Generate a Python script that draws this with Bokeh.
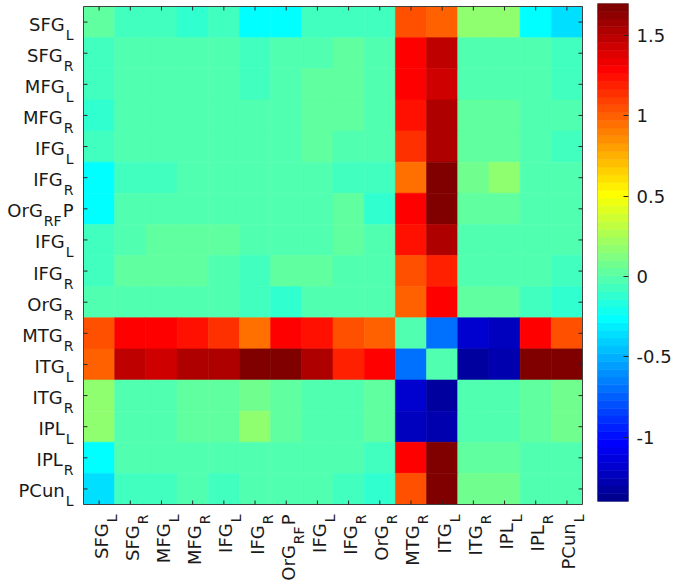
import numpy as np
from bokeh.plotting import figure
from bokeh.layouts import row
from bokeh.models import (ColumnDataSource, FixedTicker, LinearAxis, Range1d,
                          CustomJSTickFormatter)
from bokeh.transform import linear_cmap
from bokeh.core.properties import value
from bokeh.embed import file_html
from bokeh.resources import INLINE

# ---- data -------------------------------------------------------------
label_main = ["SFG", "SFG", "MFG", "MFG", "IFG", "IFG", "OrG", "IFG",
              "IFG", "OrG", "MTG", "ITG", "ITG", "IPL", "IPL", "PCun"]
label_sub = ["L", "R", "L", "R", "L", "R", "RF", "L",
             "R", "R", "R", "L", "R", "L", "R", "L"]
label_tail = ["", "", "", "", "", "", "P", "",
              "", "", "", "", "", "", "", ""]

values = [
    [0.01, -0.08, -0.08, -0.10, -0.08, -0.24, -0.24, -0.08, -0.08, -0.06, 1.05, 1.00, 0.16, 0.16, -0.25, -0.36],
    [-0.09, -0.02, -0.02, -0.02, -0.02, -0.07, -0.02, -0.02, 0.01, -0.04, 1.31, 1.47, -0.02, -0.02, -0.02, -0.06],
    [-0.09, -0.02, -0.02, -0.02, -0.02, -0.07, -0.02, 0.03, 0.01, -0.04, 1.28, 1.44, -0.02, -0.02, -0.02, -0.06],
    [-0.10, -0.02, -0.02, -0.02, -0.02, -0.02, -0.02, 0.03, 0.01, -0.04, 1.25, 1.55, 0.02, 0.02, -0.02, -0.02],
    [-0.08, -0.02, -0.02, -0.02, -0.02, -0.02, -0.02, 0.03, -0.02, -0.04, 1.12, 1.52, 0.01, 0.01, -0.02, -0.07],
    [-0.24, -0.08, -0.08, -0.02, -0.02, -0.02, -0.02, -0.02, -0.09, -0.06, 0.97, 1.66, 0.08, 0.16, -0.02, -0.02],
    [-0.24, -0.02, -0.02, -0.02, -0.02, -0.02, -0.02, -0.02, 0.01, -0.11, 1.31, 1.66, 0.03, 0.03, -0.02, -0.02],
    [-0.08, -0.02, 0.03, 0.03, 0.03, -0.02, -0.02, -0.02, 0.01, -0.04, 1.25, 1.53, -0.02, -0.02, -0.02, -0.02],
    [-0.08, 0.03, 0.03, 0.03, -0.02, -0.09, 0.03, 0.03, -0.02, -0.02, 1.07, 1.18, -0.02, -0.02, -0.02, -0.06],
    [-0.02, -0.02, -0.02, -0.02, -0.02, -0.06, -0.11, -0.02, -0.02, -0.02, 1.02, 1.31, 0.03, 0.03, -0.07, -0.11],
    [1.07, 1.31, 1.28, 1.25, 1.12, 0.97, 1.31, 1.25, 1.07, 1.02, -0.02, -0.72, -1.17, -1.21, 1.28, 1.07],
    [1.02, 1.47, 1.44, 1.55, 1.52, 1.66, 1.66, 1.52, 1.18, 1.31, -0.72, -0.02, -1.35, -1.28, 1.66, 1.70],
    [0.16, -0.02, -0.02, 0.02, 0.02, 0.06, 0.01, -0.02, -0.02, 0.02, -1.17, -1.35, -0.02, -0.02, 0.01, 0.08],
    [0.16, -0.02, -0.02, 0.02, 0.02, 0.16, 0.01, -0.02, -0.02, 0.02, -1.21, -1.28, -0.02, -0.02, 0.01, 0.08],
    [-0.25, -0.02, -0.02, -0.02, -0.02, -0.02, -0.02, -0.02, -0.02, -0.07, 1.28, 1.66, 0.03, 0.03, -0.02, -0.02],
    [-0.36, -0.08, -0.08, -0.02, -0.09, -0.02, -0.02, -0.02, -0.06, -0.11, 1.07, 1.70, 0.08, 0.08, -0.02, -0.02],
]

cbar_ticks = [-1, -0.5, 0, 0.5, 1, 1.5]
c_low, c_high = -1.4, 1.7

# ---- style ------------------------------------------------------------
FONT = "DejaVu Sans"
MAIN_PX = 18
SUB_PX = 14
TEXT_COLOR = "#1a1a1a"
BOX_COLOR = "#404040"
TICK_COLOR = "#262626"
ADV = {"L": 0.557, "R": 0.695, "F": 0.575, "P": 0.603}  # DejaVu Sans advance widths (em)

# layout (pixels)
FW, FH = 499, 498          # heat-map box
LEFT, TOP, BOTTOM, RGAP = 83, 3, 83, 15
TICK = 4
GAP = 10                   # label gap from box


def text_w(s, px):
    return sum(ADV.get(ch, 0.6) for ch in s) * px


def jet(m=64):
    n = int(np.ceil(m / 4))
    u = np.concatenate([np.arange(1, n + 1) / n, np.ones(n - 1), np.arange(n, 0, -1) / n])
    g = int(np.ceil(n / 2)) - (1 if m % 4 == 1 else 0) + np.arange(1, len(u) + 1)
    r = g + n
    b = g - n
    g = g[g <= m]
    r = r[r <= m]
    b = b[b >= 1]
    J = np.zeros((m, 3))
    J[r - 1, 0] = u[:len(r)]
    J[g - 1, 1] = u[:len(g)]
    J[b - 1, 2] = u[-len(b):]
    return ["#%02x%02x%02x" % tuple(int(round(c * 255)) for c in row) for row in J]


palette = jet(64)
n = len(label_main)
PX_X = FW / n   # pixels per data unit
PX_Y = FH / n
lo, hi = -0.5, n - 0.5

# ---- main heat map ----------------------------------------------------
p = figure(frame_width=LEFT + FW + RGAP, frame_height=TOP + FH + BOTTOM,
           x_range=Range1d(lo - LEFT / PX_X, hi + RGAP / PX_X),
           y_range=Range1d(hi + BOTTOM / PX_Y, lo - TOP / PX_Y),
           x_axis_type=None, y_axis_type=None,
           output_backend="svg", toolbar_location=None,
           min_border=0)
p.grid.visible = False
p.outline_line_color = None
p.background_fill_color = "white"
p.border_fill_color = "white"

xs, ys, vs = [], [], []
for i in range(n):
    for j in range(n):
        xs.append(j)
        ys.append(i)
        vs.append(values[i][j])
src = ColumnDataSource(dict(x=xs, y=ys, v=vs))
cmap = linear_cmap("v", palette, c_low, c_high)
p.rect(x="x", y="y", width=1, height=1, source=src,
       fill_color=cmap, line_color=cmap, line_width=0.6)

# box around the map
p.rect(x=[(lo + hi) / 2], y=[(lo + hi) / 2], width=[hi - lo], height=[hi - lo],
       fill_color=None, line_color=BOX_COLOR, line_width=1)

# inward ticks on all four sides at each cell centre
idx = list(range(n))
tx, ty = TICK / PX_X, TICK / PX_Y
p.segment(x0=idx, y0=[hi] * n, x1=idx, y1=[hi - ty] * n, line_color=TICK_COLOR, line_width=1)
p.segment(x0=idx, y0=[lo] * n, x1=idx, y1=[lo + ty] * n, line_color=TICK_COLOR, line_width=1)
p.segment(x0=[lo] * n, y0=idx, x1=[lo + tx] * n, y1=idx, line_color=TICK_COLOR, line_width=1)
p.segment(x0=[hi] * n, y0=idx, x1=[hi - tx] * n, y1=idx, line_color=TICK_COLOR, line_width=1)

# tick labels with subscripts (row labels on the left, column labels below)
pieces = {"txt": [], "px": [], "along": [], "across": [], "i": []}
for i in range(n):
    sw = text_w(label_sub[i], SUB_PX) + 1
    tw = text_w(label_tail[i], MAIN_PX) + (1 if label_tail[i] else 0)
    parts = [(label_main[i], MAIN_PX, GAP + tw + sw, 2),
             (label_sub[i], SUB_PX, GAP + tw, 12.5)]
    if label_tail[i]:
        parts.append((label_tail[i], MAIN_PX, GAP, 2))
    for txt, px, along, across in parts:
        pieces["txt"].append(txt)
        pieces["px"].append(px)
        pieces["along"].append(along)
        pieces["across"].append(across)
        pieces["i"].append(i)

for px in (MAIN_PX, SUB_PX):
    sel = [k for k in range(len(pieces["txt"])) if pieces["px"][k] == px]
    t = [pieces["txt"][k] for k in sel]
    ii = [pieces["i"][k] for k in sel]
    al = [pieces["along"][k] for k in sel]
    ac = [pieces["across"][k] for k in sel]
    style = dict(text_font=value(FONT), text_font_size=value(f"{px}px"),
                 text_color=TEXT_COLOR, text_align="right", text_baseline="alphabetic")
    # left labels
    p.text(x=[lo - a / PX_X for a in al], y=[i + c / PX_Y for i, c in zip(ii, ac)],
           text=t, **style)
    # bottom labels, rotated to read upward
    p.text(x=[i + c / PX_X for i, c in zip(ii, ac)], y=[hi + a / PX_Y for a in al],
           text=t, angle=np.pi / 2, **style)

# ---- colour bar -------------------------------------------------------
m = len(palette)
step = (c_high - c_low) / m
cb = figure(frame_width=31, frame_height=FH,
            x_range=Range1d(0, 1), y_range=Range1d(c_low, c_high),
            x_axis_type=None, y_axis_type=None,
            output_backend="svg", toolbar_location=None,
            min_border_left=0, min_border_right=0,
            min_border_top=TOP, min_border_bottom=BOTTOM)
cb.grid.visible = False
cb.outline_line_color = "#9a9a9a"
cb.border_fill_color = "white"
cb.rect(x=[0.5] * m, y=[c_low + (k + 0.5) * step for k in range(m)],
        width=1, height=step, fill_color=palette, line_color=palette, line_width=0.6)
cax = LinearAxis(ticker=FixedTicker(ticks=cbar_ticks),
                 formatter=CustomJSTickFormatter(code="return String(tick)"),
                 major_tick_in=5, major_tick_out=0, major_tick_line_color=TICK_COLOR,
                 minor_tick_line_color=None, axis_line_color=None,
                 major_label_standoff=8, major_label_text_font=FONT,
                 major_label_text_font_size=f"{MAIN_PX}px",
                 major_label_text_color=TEXT_COLOR)
cb.add_layout(cax, "right")

layout = row(p, cb, spacing=0)
open("out.html", "w").write(file_html(layout, INLINE))
